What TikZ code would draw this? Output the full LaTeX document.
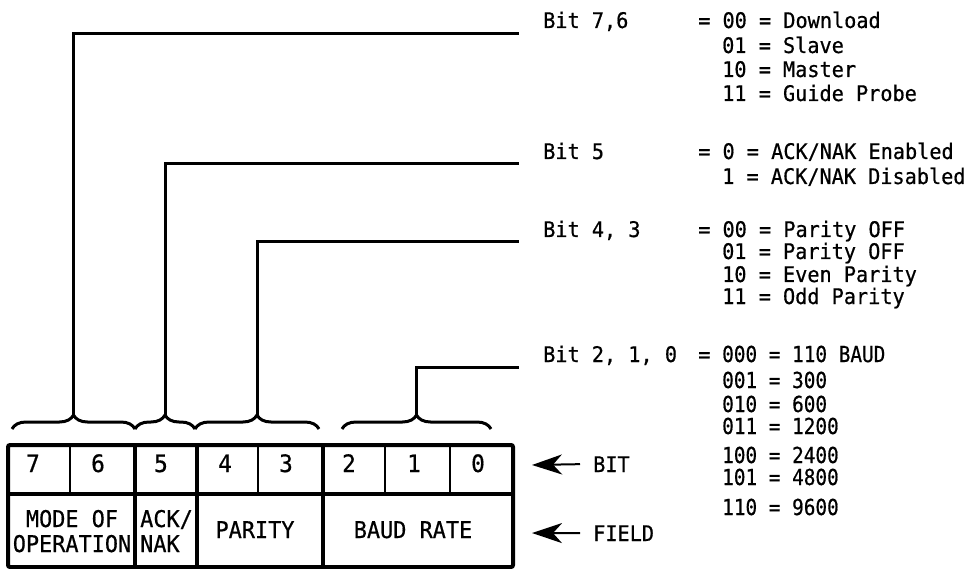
\documentclass[tikz,border=0pt]{standalone}
\usepackage{fontspec}
\newfontfamily\lgfont{DejaVu Sans Mono}[FakeStretch=0.94, FakeBold=0.6]
\newfontfamily\lgnarrow{DejaVu Sans Mono}[FakeStretch=0.88, FakeBold=0.6]
\newfontfamily\lgfield{DejaVu Sans Mono}[FakeStretch=0.95, FakeBold=0.6]
\usetikzlibrary{decorations.pathreplacing,arrows.meta}
\begin{document}
\begin{tikzpicture}[x=1pt,y=-1pt,
  txt/.style={font=\lgfont\fontsize{21.5}{24}\selectfont, inner sep=0pt, anchor=base west},
  baudtxt/.style={font=\lgnarrow\fontsize{22}{24}\selectfont, inner sep=0pt, anchor=base west},
  bignum/.style={font=\lgfield\fontsize{24}{26}\selectfont, inner sep=0pt, anchor=base},
  fieldtxt/.style={font=\lgfield\fontsize{23}{26}\selectfont, inner sep=0pt},
  lead/.style={line width=3pt},
  brc/.style={decorate, decoration={brace, amplitude=14pt}, line width=3pt},
  thickline/.style={line width=4pt},
  thinline/.style={line width=2pt},
  pointer/.style={line width=2pt, -{Stealth[length=30pt 0,width=20pt 0,inset=9pt 0]}}]
\useasboundingbox (0,0) rectangle (974,569);

% braces
\draw[brc] (12,429) -- (135,429);
\draw[brc] (135,429) -- (195,429);
\draw[brc] (195,429) -- (319,429);
\draw[brc] (342,429) -- (491,429);
\coordinate (tip1) at (73.5,415);
\coordinate (tip2) at (165,415);
\coordinate (tip3) at (257,415);
\coordinate (tip4) at (416.5,415);
\coordinate (end1) at (519,34);
\coordinate (end2) at (519,164);
\coordinate (end3) at (519,242);
\coordinate (end4) at (519,367);
\draw[lead] (tip1) |- (end1);
\draw[lead] (tip2) |- (end2);
\draw[lead] (tip3) |- (end3);
\draw[lead] (tip4) |- (end4);

% right texts
\node[txt] (b76) at (543,28) {Bit 7,6};
\node[txt] (v76a) at (698,28) {= 00 = Download};
\node[txt] (v76b) at (722,53) {01 = Slave};
\node[txt] (v76c) at (722,77) {10 = Master};
\node[txt] (v76d) at (722,101) {11 = Guide Probe};

\node[txt] (b5) at (543,159) {Bit 5};
\node[txt] (v5a) at (698,159) {= 0 = ACK/NAK Enabled};
\node[txt] (v5b) at (722,184) {1 = ACK/NAK Disabled};

\node[txt] (b43) at (543,237) {Bit 4, 3};
\node[txt] (v43a) at (698,237) {= 00 = Parity OFF};
\node[txt] (v43b) at (722,259) {01 = Parity OFF};
\node[txt] (v43c) at (722,282) {10 = Even Parity};
\node[txt] (v43d) at (722,304) {11 = Odd Parity};

\node[txt] (b210) at (543,362) {Bit 2, 1, 0};
\node[txt] (v210eq) at (698,362) {=};
\node[baudtxt] (v210a) at (722,362) {000 = 110 BAUD};
\node[baudtxt] (v210b) at (722,388) {001 = 300};
\node[baudtxt] (v210c) at (722,412) {010 = 600};
\node[baudtxt] (v210d) at (722,434) {011 = 1200};
\node[baudtxt] (v210e) at (722,463) {100 = 2400};
\node[baudtxt] (v210f) at (722,485) {101 = 4800};
\node[baudtxt] (v210g) at (722,515) {110 = 9600};

% register box
\draw[thickline, rounded corners=2pt] (8,445) rectangle (513,567);
\draw[thickline] (8,494) -- (513,494);
\draw[thickline] (135,445) -- (135,567);
\draw[thickline] (197,445) -- (197,567);
\draw[thickline] (323,445) -- (323,567);
\draw[thinline] (70,445) -- (70,494);
\draw[thinline] (258,445) -- (258,494);
\draw[thinline] (385,445) -- (385,494);
\draw[thinline] (450,445) -- (450,494);

\node[bignum] (n7) at (33,472) {7};
\node[bignum] (n6) at (98,472) {6};
\node[bignum] (n5) at (161,472) {5};
\node[bignum] (n4) at (225,472) {4};
\node[bignum] (n3) at (286,472) {3};
\node[bignum] (n2) at (349,472) {2};
\node[bignum] (n1) at (414,472) {1};
\node[bignum] (n0) at (478,472) {0};

\node[fieldtxt, anchor=base] (mode1) at (72,527) {MODE OF};
\node[fieldtxt, anchor=base] (mode2) at (72,552) {OPERATION};
\node[fieldtxt, anchor=base west] (ack1) at (140,527) {ACK/};
\node[fieldtxt, anchor=base west] (ack2) at (140,552) {NAK};
\node[fieldtxt, anchor=base] (par) at (255,538) {PARITY};
\node[fieldtxt, anchor=base] (baud) at (413,538) {BAUD RATE};

% BIT / FIELD pointers
\node[txt] (bitlab) at (593,472) {BIT};
\node[txt] (fieldlab) at (593,541) {FIELD};
\coordinate (bittip) at (532,465);
\coordinate (fieldtip) at (532,533);
\draw[pointer] ([xshift=-13pt]bitlab.west) -- (bittip);
\draw[pointer] ([xshift=-13pt]fieldlab.west) -- (fieldtip);
\end{tikzpicture}
\end{document}
